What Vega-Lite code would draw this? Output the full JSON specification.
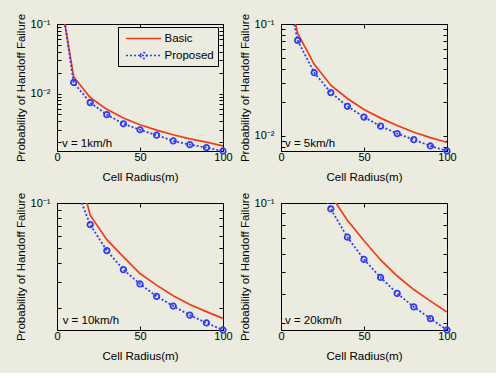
{
  "$schema": "https://vega.github.io/schema/vega-lite/v6.json",
  "background": "#ecebdf",
  "padding": {"left": 14, "top": 12, "right": 39, "bottom": 11},
  "columns": 2,
  "spacing": {"row": 52, "column": 58},
  "bounds": "flush",
  "config": {
    "view": {"stroke": "black", "strokeWidth": 1, "fill": null},
    "font": "Liberation Sans",
    "axis": {
      "labelFont": "Liberation Sans", "labelFontSize": 11, "labelColor": "black",
      "titleFont": "Liberation Sans", "titleFontSize": 11.5, "titleFontWeight": "normal", "titleColor": "black",
      "tickColor": "black", "tickSize": -4, "domain": false, "grid": false,
      "labelOverlap": false, "labelFlush": false
    }
  },
  "datasets": {
    "d": [
      {"v": 1, "series": "Basic", "r": 0, "p": 0.5},
      {"v": 1, "series": "Basic", "r": 10, "p": 0.01746},
      {"v": 1, "series": "Basic", "r": 20, "p": 0.00875},
      {"v": 1, "series": "Basic", "r": 30, "p": 0.00592},
      {"v": 1, "series": "Basic", "r": 40, "p": 0.00445},
      {"v": 1, "series": "Basic", "r": 50, "p": 0.00356},
      {"v": 1, "series": "Basic", "r": 60, "p": 0.00298},
      {"v": 1, "series": "Basic", "r": 70, "p": 0.00255},
      {"v": 1, "series": "Basic", "r": 80, "p": 0.00223},
      {"v": 1, "series": "Basic", "r": 90, "p": 0.002},
      {"v": 1, "series": "Basic", "r": 100, "p": 0.00176},
      {"v": 1, "series": "Proposed", "r": 0, "p": 0.6},
      {"v": 1, "series": "Proposed", "r": 10, "p": 0.0144},
      {"v": 1, "series": "Proposed", "r": 20, "p": 0.00741},
      {"v": 1, "series": "Proposed", "r": 30, "p": 0.00497},
      {"v": 1, "series": "Proposed", "r": 40, "p": 0.00367},
      {"v": 1, "series": "Proposed", "r": 50, "p": 0.00301},
      {"v": 1, "series": "Proposed", "r": 60, "p": 0.00252},
      {"v": 1, "series": "Proposed", "r": 70, "p": 0.00208},
      {"v": 1, "series": "Proposed", "r": 80, "p": 0.00184},
      {"v": 1, "series": "Proposed", "r": 90, "p": 0.00167},
      {"v": 1, "series": "Proposed", "r": 100, "p": 0.00149},
      {"v": 5, "series": "Basic", "r": 0, "p": 0.4},
      {"v": 5, "series": "Basic", "r": 10, "p": 0.0829},
      {"v": 5, "series": "Basic", "r": 20, "p": 0.0436},
      {"v": 5, "series": "Basic", "r": 30, "p": 0.0284},
      {"v": 5, "series": "Basic", "r": 40, "p": 0.0216},
      {"v": 5, "series": "Basic", "r": 50, "p": 0.01725},
      {"v": 5, "series": "Basic", "r": 60, "p": 0.01442},
      {"v": 5, "series": "Basic", "r": 70, "p": 0.01239},
      {"v": 5, "series": "Basic", "r": 80, "p": 0.01079},
      {"v": 5, "series": "Basic", "r": 90, "p": 0.00966},
      {"v": 5, "series": "Basic", "r": 100, "p": 0.00877},
      {"v": 5, "series": "Proposed", "r": 0, "p": 0.39},
      {"v": 5, "series": "Proposed", "r": 10, "p": 0.0713},
      {"v": 5, "series": "Proposed", "r": 20, "p": 0.0367},
      {"v": 5, "series": "Proposed", "r": 30, "p": 0.0244},
      {"v": 5, "series": "Proposed", "r": 40, "p": 0.0184},
      {"v": 5, "series": "Proposed", "r": 50, "p": 0.01473},
      {"v": 5, "series": "Proposed", "r": 60, "p": 0.01222},
      {"v": 5, "series": "Proposed", "r": 70, "p": 0.01049},
      {"v": 5, "series": "Proposed", "r": 80, "p": 0.00926},
      {"v": 5, "series": "Proposed", "r": 90, "p": 0.00813},
      {"v": 5, "series": "Proposed", "r": 100, "p": 0.00733},
      {"v": 10, "series": "Basic", "r": 0, "p": 0.9},
      {"v": 10, "series": "Basic", "r": 10, "p": 0.22},
      {"v": 10, "series": "Basic", "r": 20, "p": 0.083},
      {"v": 10, "series": "Basic", "r": 30, "p": 0.0571},
      {"v": 10, "series": "Basic", "r": 40, "p": 0.0439},
      {"v": 10, "series": "Basic", "r": 50, "p": 0.034},
      {"v": 10, "series": "Basic", "r": 60, "p": 0.0285},
      {"v": 10, "series": "Basic", "r": 70, "p": 0.0242},
      {"v": 10, "series": "Basic", "r": 80, "p": 0.0212},
      {"v": 10, "series": "Basic", "r": 90, "p": 0.019},
      {"v": 10, "series": "Basic", "r": 100, "p": 0.0171},
      {"v": 10, "series": "Proposed", "r": 0, "p": 0.6},
      {"v": 10, "series": "Proposed", "r": 10, "p": 0.137},
      {"v": 10, "series": "Proposed", "r": 20, "p": 0.0718},
      {"v": 10, "series": "Proposed", "r": 30, "p": 0.0483},
      {"v": 10, "series": "Proposed", "r": 40, "p": 0.0361},
      {"v": 10, "series": "Proposed", "r": 50, "p": 0.029},
      {"v": 10, "series": "Proposed", "r": 60, "p": 0.024},
      {"v": 10, "series": "Proposed", "r": 70, "p": 0.0207},
      {"v": 10, "series": "Proposed", "r": 80, "p": 0.018},
      {"v": 10, "series": "Proposed", "r": 90, "p": 0.016},
      {"v": 10, "series": "Proposed", "r": 100, "p": 0.01435},
      {"v": 20, "series": "Basic", "r": 0, "p": 1},
      {"v": 20, "series": "Basic", "r": 10, "p": 0.33},
      {"v": 20, "series": "Basic", "r": 20, "p": 0.16},
      {"v": 20, "series": "Basic", "r": 30, "p": 0.108},
      {"v": 20, "series": "Basic", "r": 40, "p": 0.0841},
      {"v": 20, "series": "Basic", "r": 50, "p": 0.0684},
      {"v": 20, "series": "Basic", "r": 60, "p": 0.0564},
      {"v": 20, "series": "Basic", "r": 70, "p": 0.048},
      {"v": 20, "series": "Basic", "r": 80, "p": 0.0419},
      {"v": 20, "series": "Basic", "r": 90, "p": 0.0373},
      {"v": 20, "series": "Basic", "r": 100, "p": 0.0334},
      {"v": 20, "series": "Proposed", "r": 0, "p": 0.9},
      {"v": 20, "series": "Proposed", "r": 10, "p": 0.28},
      {"v": 20, "series": "Proposed", "r": 20, "p": 0.128},
      {"v": 20, "series": "Proposed", "r": 30, "p": 0.0942},
      {"v": 20, "series": "Proposed", "r": 40, "p": 0.0709},
      {"v": 20, "series": "Proposed", "r": 50, "p": 0.0567},
      {"v": 20, "series": "Proposed", "r": 60, "p": 0.0473},
      {"v": 20, "series": "Proposed", "r": 70, "p": 0.0403},
      {"v": 20, "series": "Proposed", "r": 80, "p": 0.0352},
      {"v": 20, "series": "Proposed", "r": 90, "p": 0.0313},
      {"v": 20, "series": "Proposed", "r": 100, "p": 0.0279}
    ]
  },
  "concat": [
    {
      "width": 166, "height": 127,
      "data": {"name": "d"},
      "transform": [{"filter": "datum.v == 1"}],
      "layer": [
        {
          "transform": [{"filter": "datum.series == 'Basic'"}],
          "mark": {"type": "line", "color": "#f23b16", "strokeWidth": 1.7, "clip": true},
          "encoding": {
            "x": {"field": "r", "type": "quantitative", "scale": {"domain": [0, 100], "nice": false},
                  "axis": {"orient": "bottom", "values": [0, 50, 100], "labelPadding": 4, "title": "Cell Radius(m)", "titlePadding": 9}},
            "y": {"field": "p", "type": "quantitative", "scale": {"type": "log", "domain": [0.00149, 0.1], "nice": false},
                  "axis": {"orient": "left", "values": [0.002, 0.003, 0.004, 0.005, 0.006, 0.007, 0.008, 0.009, 0.01, 0.02, 0.03, 0.04, 0.05, 0.06, 0.07, 0.08, 0.09, 0.1],
                           "labelExpr": "datum.value == 0.1 ? '10⁻¹' : datum.value == 0.01 ? '10⁻²' : ''",
                           "labelPadding": 11, "title": "Probability of Handoff Failure", "titlePadding": 4}}
          }
        },
        {
          "transform": [{"filter": "datum.series == 'Proposed'"}],
          "mark": {"type": "line", "color": "#2e3cf2", "strokeWidth": 1.8, "strokeDash": [2, 2], "clip": true},
          "encoding": {
            "x": {"field": "r", "type": "quantitative", "axis": {"orient": "top", "values": [0, 50, 100], "labels": false, "title": null}},
            "y": {"field": "p", "type": "quantitative",
                  "axis": {"orient": "right", "values": [0.002, 0.003, 0.004, 0.005, 0.006, 0.007, 0.008, 0.009, 0.01, 0.02, 0.03, 0.04, 0.05, 0.06, 0.07, 0.08, 0.09, 0.1], "labels": false, "title": null}}
          }
        },
        {
          "transform": [{"filter": "datum.series == 'Proposed' && datum.p <= 0.1"}],
          "mark": {"type": "point", "shape": "circle", "filled": false, "color": "#2e3cf2", "size": 30, "strokeWidth": 1.8, "opacity": 1},
          "encoding": {
            "x": {"field": "r", "type": "quantitative", "axis": null},
            "y": {"field": "p", "type": "quantitative", "axis": null}
          }
        },
        {
          "mark": {"type": "point", "filled": false, "opacity": 0, "strokeWidth": 1.7, "clip": true},
          "encoding": {
            "x": {"field": "r", "type": "quantitative", "axis": null},
            "y": {"field": "p", "type": "quantitative", "axis": null},
            "color": {"field": "series", "type": "nominal", "scale": {"domain": ["Basic", "Proposed"], "range": ["#f23b16", "#2e3cf2"]},
                      "legend": {"orient": "none", "legendX": 61, "legendY": 3, "title": null, "strokeColor": "black", "fillColor": "#ecebdf", "padding": 4, "labelFont": "Liberation Sans", "labelFontSize": 11.5, "labelColor": "black", "symbolSize": 169, "symbolStrokeWidth": 1.7, "labelOffset": 13.5, "symbolOffset": 14, "rowPadding": 4}},
            "shape": {"field": "series", "type": "nominal", "scale": {"domain": ["Basic", "Proposed"], "range": ["M-2.69,0H2.69", "M-2.69,0H2.69M-0.46,0A0.46,0.46,0,1,0,0.46,0A0.46,0.46,0,1,0,-0.46,0"]},
                      "legend": {"orient": "none", "legendX": 61, "legendY": 3, "title": null, "strokeColor": "black", "fillColor": "#ecebdf", "padding": 4, "labelFont": "Liberation Sans", "labelFontSize": 11.5, "labelColor": "black", "symbolSize": 169, "symbolStrokeWidth": 1.7, "labelOffset": 13.5, "symbolOffset": 14, "rowPadding": 4}},
            "strokeDash": {"field": "series", "type": "nominal", "scale": {"domain": ["Basic", "Proposed"], "range": [[1, 0], [2, 2]]},
                      "legend": {"orient": "none", "legendX": 61, "legendY": 3, "title": null, "strokeColor": "black", "fillColor": "#ecebdf", "padding": 4, "labelFont": "Liberation Sans", "labelFontSize": 11.5, "labelColor": "black", "symbolSize": 169, "symbolStrokeWidth": 1.7, "labelOffset": 13.5, "symbolOffset": 14, "rowPadding": 4}}
          }
        },
        {
          "data": {"values": [{"label": "v = 1km/h"}]},
          "mark": {"type": "text", "align": "left", "baseline": "middle", "fontSize": 11.5, "font": "Liberation Sans", "color": "black"},
          "encoding": {
            "x": {"datum": 3, "type": "quantitative", "axis": null},
            "y": {"datum": 0.00188, "type": "quantitative", "axis": null},
            "text": {"field": "label"}
          }
        }
      ],
      "resolve": {"axis": {"x": "independent", "y": "independent"}}
    },
    {
      "width": 166, "height": 127,
      "data": {"name": "d"},
      "transform": [{"filter": "datum.v == 5"}],
      "layer": [
        {
          "transform": [{"filter": "datum.series == 'Basic'"}],
          "mark": {"type": "line", "color": "#f23b16", "strokeWidth": 1.7, "clip": true},
          "encoding": {
            "x": {"field": "r", "type": "quantitative", "scale": {"domain": [0, 100], "nice": false},
                  "axis": {"orient": "bottom", "values": [0, 50, 100], "labelPadding": 4, "title": "Cell Radius(m)", "titlePadding": 9}},
            "y": {"field": "p", "type": "quantitative", "scale": {"type": "log", "domain": [0.00733, 0.1], "nice": false},
                  "axis": {"orient": "left", "values": [0.008, 0.009, 0.01, 0.02, 0.03, 0.04, 0.05, 0.06, 0.07, 0.08, 0.09, 0.1],
                           "labelExpr": "datum.value == 0.1 ? '10⁻¹' : datum.value == 0.01 ? '10⁻²' : ''",
                           "labelPadding": 11, "title": "Probability of Handoff Failure", "titlePadding": 4}}
          }
        },
        {
          "transform": [{"filter": "datum.series == 'Proposed'"}],
          "mark": {"type": "line", "color": "#2e3cf2", "strokeWidth": 1.8, "strokeDash": [2, 2], "clip": true},
          "encoding": {
            "x": {"field": "r", "type": "quantitative", "axis": {"orient": "top", "values": [0, 50, 100], "labels": false, "title": null}},
            "y": {"field": "p", "type": "quantitative",
                  "axis": {"orient": "right", "values": [0.008, 0.009, 0.01, 0.02, 0.03, 0.04, 0.05, 0.06, 0.07, 0.08, 0.09, 0.1], "labels": false, "title": null}}
          }
        },
        {
          "transform": [{"filter": "datum.series == 'Proposed' && datum.p <= 0.1"}],
          "mark": {"type": "point", "shape": "circle", "filled": false, "color": "#2e3cf2", "size": 30, "strokeWidth": 1.8, "opacity": 1},
          "encoding": {
            "x": {"field": "r", "type": "quantitative", "axis": null},
            "y": {"field": "p", "type": "quantitative", "axis": null}
          }
        },
        {
          "data": {"values": [{"label": "v = 5km/h"}]},
          "mark": {"type": "text", "align": "left", "baseline": "middle", "fontSize": 11.5, "font": "Liberation Sans", "color": "black"},
          "encoding": {
            "x": {"datum": 2.4, "type": "quantitative", "axis": null},
            "y": {"datum": 0.0084, "type": "quantitative", "axis": null},
            "text": {"field": "label"}
          }
        }
      ],
      "resolve": {"axis": {"x": "independent", "y": "independent"}}
    },
    {
      "width": 166, "height": 127,
      "data": {"name": "d"},
      "transform": [{"filter": "datum.v == 10"}],
      "layer": [
        {
          "transform": [{"filter": "datum.series == 'Basic'"}],
          "mark": {"type": "line", "color": "#f23b16", "strokeWidth": 1.7, "clip": true},
          "encoding": {
            "x": {"field": "r", "type": "quantitative", "scale": {"domain": [0, 100], "nice": false},
                  "axis": {"orient": "bottom", "values": [0, 50, 100], "labelPadding": 4, "title": "Cell Radius(m)", "titlePadding": 9}},
            "y": {"field": "p", "type": "quantitative", "scale": {"type": "log", "domain": [0.01435, 0.1], "nice": false},
                  "axis": {"orient": "left", "values": [0.02, 0.03, 0.04, 0.05, 0.06, 0.07, 0.08, 0.09, 0.1],
                           "labelExpr": "datum.value == 0.1 ? '10⁻¹' : datum.value == 0.01 ? '10⁻²' : ''",
                           "labelPadding": 11, "title": "Probability of Handoff Failure", "titlePadding": 4}}
          }
        },
        {
          "transform": [{"filter": "datum.series == 'Proposed'"}],
          "mark": {"type": "line", "color": "#2e3cf2", "strokeWidth": 1.8, "strokeDash": [2, 2], "clip": true},
          "encoding": {
            "x": {"field": "r", "type": "quantitative", "axis": {"orient": "top", "values": [0, 50, 100], "labels": false, "title": null}},
            "y": {"field": "p", "type": "quantitative",
                  "axis": {"orient": "right", "values": [0.02, 0.03, 0.04, 0.05, 0.06, 0.07, 0.08, 0.09, 0.1], "labels": false, "title": null}}
          }
        },
        {
          "transform": [{"filter": "datum.series == 'Proposed' && datum.p <= 0.1"}],
          "mark": {"type": "point", "shape": "circle", "filled": false, "color": "#2e3cf2", "size": 30, "strokeWidth": 1.8, "opacity": 1},
          "encoding": {
            "x": {"field": "r", "type": "quantitative", "axis": null},
            "y": {"field": "p", "type": "quantitative", "axis": null}
          }
        },
        {
          "data": {"values": [{"label": "v = 10km/h"}]},
          "mark": {"type": "text", "align": "left", "baseline": "middle", "fontSize": 11.5, "font": "Liberation Sans", "color": "black"},
          "encoding": {
            "x": {"datum": 3.4, "type": "quantitative", "axis": null},
            "y": {"datum": 0.01637, "type": "quantitative", "axis": null},
            "text": {"field": "label"}
          }
        }
      ],
      "resolve": {"axis": {"x": "independent", "y": "independent"}}
    },
    {
      "width": 166, "height": 127,
      "data": {"name": "d"},
      "transform": [{"filter": "datum.v == 20"}],
      "layer": [
        {
          "transform": [{"filter": "datum.series == 'Basic'"}],
          "mark": {"type": "line", "color": "#f23b16", "strokeWidth": 1.7, "clip": true},
          "encoding": {
            "x": {"field": "r", "type": "quantitative", "scale": {"domain": [0, 100], "nice": false},
                  "axis": {"orient": "bottom", "values": [0, 50, 100], "labelPadding": 4, "title": "Cell Radius(m)", "titlePadding": 9}},
            "y": {"field": "p", "type": "quantitative", "scale": {"type": "log", "domain": [0.0279, 0.1], "nice": false},
                  "axis": {"orient": "left", "values": [0.03, 0.04, 0.05, 0.06, 0.07, 0.08, 0.09, 0.1],
                           "labelExpr": "datum.value == 0.1 ? '10⁻¹' : datum.value == 0.01 ? '10⁻²' : ''",
                           "labelPadding": 11, "title": "Probability of Handoff Failure", "titlePadding": 4}}
          }
        },
        {
          "transform": [{"filter": "datum.series == 'Proposed'"}],
          "mark": {"type": "line", "color": "#2e3cf2", "strokeWidth": 1.8, "strokeDash": [2, 2], "clip": true},
          "encoding": {
            "x": {"field": "r", "type": "quantitative", "axis": {"orient": "top", "values": [0, 50, 100], "labels": false, "title": null}},
            "y": {"field": "p", "type": "quantitative",
                  "axis": {"orient": "right", "values": [0.03, 0.04, 0.05, 0.06, 0.07, 0.08, 0.09, 0.1], "labels": false, "title": null}}
          }
        },
        {
          "transform": [{"filter": "datum.series == 'Proposed' && datum.p <= 0.1"}],
          "mark": {"type": "point", "shape": "circle", "filled": false, "color": "#2e3cf2", "size": 30, "strokeWidth": 1.8, "opacity": 1},
          "encoding": {
            "x": {"field": "r", "type": "quantitative", "axis": null},
            "y": {"field": "p", "type": "quantitative", "axis": null}
          }
        },
        {
          "data": {"values": [{"label": "v = 20km/h"}]},
          "mark": {"type": "text", "align": "left", "baseline": "middle", "fontSize": 11.5, "font": "Liberation Sans", "color": "black"},
          "encoding": {
            "x": {"datum": 2.4, "type": "quantitative", "axis": null},
            "y": {"datum": 0.0306, "type": "quantitative", "axis": null},
            "text": {"field": "label"}
          }
        }
      ],
      "resolve": {"axis": {"x": "independent", "y": "independent"}}
    }
  ]
}
